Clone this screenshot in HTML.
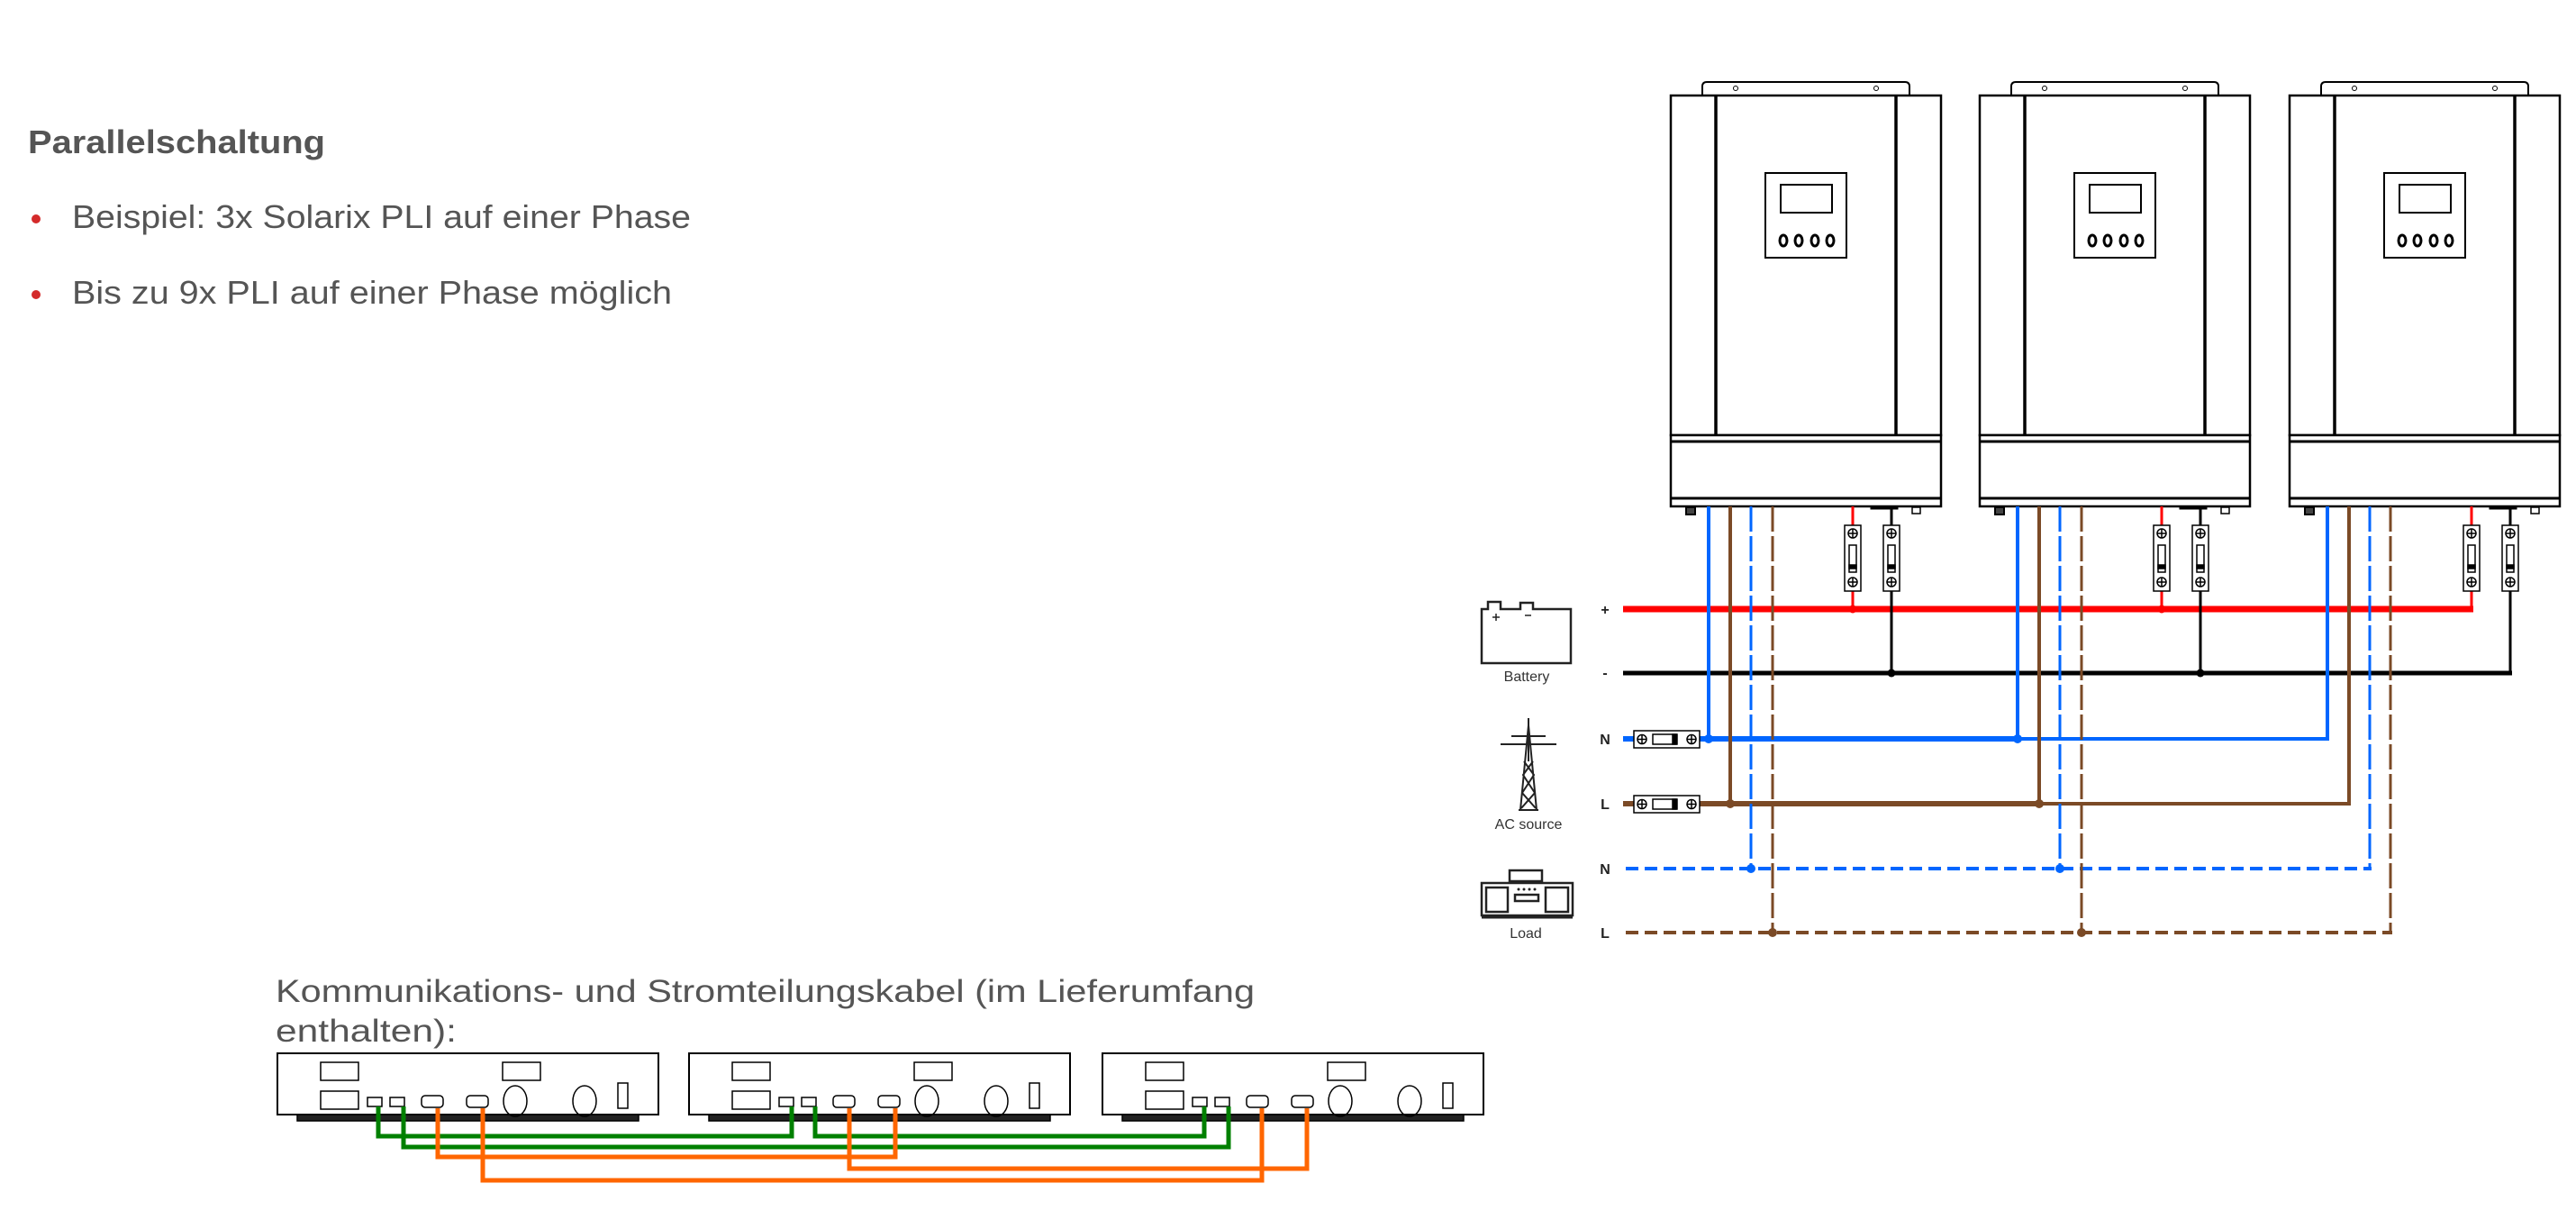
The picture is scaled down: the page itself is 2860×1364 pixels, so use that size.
<!DOCTYPE html>
<html><head><meta charset="utf-8"><style>
html,body{margin:0;padding:0;background:#fff;}
svg{display:block;}
</style></head><body>
<svg width="2860" height="1364" viewBox="0 0 2860 1364" xmlns="http://www.w3.org/2000/svg" font-family="Liberation Sans, sans-serif">
<defs>
<g id="inv" fill="none" stroke="#000">
  <path d="M35 106 V96 Q35 91 40 91 H260 Q265 91 265 96 V106" stroke-width="2" fill="#fff"/>
  <circle cx="72" cy="98" r="2.5" stroke-width="1"/><circle cx="228" cy="98" r="2.5" stroke-width="1"/>
  <rect x="0" y="106" width="300" height="377" stroke-width="2.5" fill="#fff"/>
  <line x1="50" y1="106" x2="50" y2="483" stroke-width="3.5"/>
  <line x1="250" y1="106" x2="250" y2="483" stroke-width="3.5"/>
  <rect x="105" y="192" width="90" height="94" stroke-width="2"/>
  <rect x="122" y="205" width="57" height="31" stroke-width="2"/>
  <ellipse cx="125" cy="267" rx="4" ry="6" stroke-width="3"/>
  <ellipse cx="142" cy="267" rx="4" ry="6" stroke-width="3"/>
  <ellipse cx="160" cy="267" rx="4" ry="6" stroke-width="3"/>
  <ellipse cx="177" cy="267" rx="4" ry="6" stroke-width="3"/>
  <rect x="0" y="483" width="300" height="79" stroke-width="2.5" fill="#fff"/>
  <line x1="0" y1="490" x2="300" y2="490" stroke-width="3"/>
  <line x1="0" y1="553" x2="300" y2="553" stroke-width="3"/>
  <rect x="17" y="563" width="10" height="8" stroke-width="2" fill="#444"/>
  <rect x="268" y="563" width="9" height="7" stroke-width="1.5"/>
  <rect x="222" y="562" width="30" height="3" fill="#000"/>
</g>
<g id="brk" fill="#fff" stroke="#000" stroke-width="1.5">
  <rect x="0" y="0" width="18" height="73"/>
  <circle cx="9" cy="9" r="5"/><line x1="4" y1="9" x2="14" y2="9"/><line x1="9" y1="4" x2="9" y2="14"/>
  <circle cx="9" cy="63" r="5"/><line x1="4" y1="63" x2="14" y2="63"/><line x1="9" y1="58" x2="9" y2="68"/>
  <rect x="5" y="22" width="8" height="30"/><rect x="5" y="44" width="8" height="4" fill="#000"/>
</g>
<g id="hbrk" fill="#fff" stroke="#000" stroke-width="1.5">
  <rect x="0" y="0" width="73" height="19"/>
  <circle cx="9" cy="9.5" r="5"/><line x1="4" y1="9.5" x2="14" y2="9.5"/><line x1="9" y1="4.5" x2="9" y2="14.5"/>
  <circle cx="64" cy="9.5" r="5"/><line x1="59" y1="9.5" x2="69" y2="9.5"/><line x1="64" y1="4.5" x2="64" y2="14.5"/>
  <rect x="21" y="4" width="26" height="11"/><rect x="43" y="4" width="5" height="11" fill="#000"/>
</g>
<g id="box" fill="none" stroke="#000">
  <rect x="0" y="0" width="423" height="68" stroke-width="2" fill="#fff"/>
  <rect x="22" y="68" width="379" height="7" stroke-width="1.5" fill="#222"/>
  <rect x="48" y="10" width="42" height="20" stroke-width="1.5"/>
  <rect x="250" y="10" width="42" height="20" stroke-width="1.5"/>
  <rect x="48" y="42" width="42" height="20" stroke-width="1.5"/>
  <rect x="100" y="49" width="16" height="10" stroke-width="1.5"/>
  <rect x="125" y="49" width="16" height="10" stroke-width="1.5"/>
  <rect x="160" y="47" width="24" height="13" rx="4" stroke-width="1.5"/>
  <rect x="210" y="47" width="24" height="13" rx="4" stroke-width="1.5"/>
  <ellipse cx="264" cy="53" rx="13" ry="17" stroke-width="1.5"/>
  <ellipse cx="341" cy="53" rx="13" ry="17" stroke-width="1.5"/>
  <rect x="378" y="33" width="11" height="28" stroke-width="1.5"/>
</g>
</defs>

<!-- left text -->
<text x="31" y="170" font-size="36" font-weight="bold" fill="#555" textLength="330" lengthAdjust="spacingAndGlyphs">Parallelschaltung</text>
<circle cx="40" cy="243" r="5" fill="#d42a2a"/>
<text x="80" y="253" font-size="36" fill="#555" textLength="687" lengthAdjust="spacingAndGlyphs">Beispiel: 3x Solarix PLI auf einer Phase</text>
<circle cx="40" cy="327" r="5" fill="#d42a2a"/>
<text x="80" y="337" font-size="36" fill="#555" textLength="666" lengthAdjust="spacingAndGlyphs">Bis zu 9x PLI auf einer Phase möglich</text>

<!-- inverters -->
<use href="#inv" x="1855"/>
<use href="#inv" x="2198"/>
<use href="#inv" x="2542"/>

<!-- wires -->
<g fill="none" stroke-linecap="butt">
  <line x1="1802" y1="676" x2="2746" y2="676" stroke="#ff0000" stroke-width="7"/>
  <g stroke="#ff0000" stroke-width="3">
    <line x1="2057" y1="562" x2="2057" y2="676"/><line x1="2400" y1="562" x2="2400" y2="676"/><path d="M2744 562 V676"/>
  </g>
  <line x1="1802" y1="747" x2="2789" y2="747" stroke="#000" stroke-width="5"/>
  <g stroke="#000" stroke-width="3">
    <line x1="2100" y1="562" x2="2100" y2="747"/><line x1="2443" y1="562" x2="2443" y2="747"/><line x1="2787" y1="562" x2="2787" y2="749"/>
  </g>
  <line x1="1802" y1="820" x2="2241" y2="820" stroke="#0066ff" stroke-width="6"/>
  <line x1="2240" y1="820" x2="2586" y2="820" stroke="#0066ff" stroke-width="4"/>
  <g stroke="#0066ff" stroke-width="4">
    <line x1="1897" y1="562" x2="1897" y2="820"/><line x1="2240" y1="562" x2="2240" y2="820"/><line x1="2584" y1="562" x2="2584" y2="822"/>
  </g>
  <line x1="1802" y1="892" x2="2265" y2="892" stroke="#7b4a26" stroke-width="6"/>
  <line x1="2264" y1="892" x2="2610" y2="892" stroke="#7b4a26" stroke-width="4"/>
  <g stroke="#7b4a26" stroke-width="4">
    <line x1="1921" y1="562" x2="1921" y2="892"/><line x1="2264" y1="562" x2="2264" y2="892"/><line x1="2608" y1="562" x2="2608" y2="894"/>
  </g>
  <line x1="1805" y1="964" x2="2633" y2="964" stroke="#0066ff" stroke-width="4" stroke-dasharray="14 7"/>
  <g stroke="#0066ff" stroke-width="3" stroke-dasharray="28 5">
    <line x1="1944" y1="562" x2="1944" y2="964"/><line x1="2287" y1="562" x2="2287" y2="964"/><line x1="2631" y1="562" x2="2631" y2="966"/>
  </g>
  <line x1="1805" y1="1035" x2="2656" y2="1035" stroke="#7b4a26" stroke-width="4" stroke-dasharray="14 7"/>
  <g stroke="#7b4a26" stroke-width="3" stroke-dasharray="28 5">
    <line x1="1968" y1="562" x2="1968" y2="1035"/><line x1="2311" y1="562" x2="2311" y2="1035"/><line x1="2654" y1="562" x2="2654" y2="1037"/>
  </g>
</g>
<g>
  <circle cx="2057" cy="676" r="4.5" fill="#ff0000"/><circle cx="2400" cy="676" r="4.5" fill="#ff0000"/>
  <circle cx="2100" cy="747" r="4.5" fill="#000"/><circle cx="2443" cy="747" r="4.5" fill="#000"/>
  <circle cx="1897" cy="820" r="5" fill="#0066ff"/><circle cx="2240" cy="820" r="5" fill="#0066ff"/>
  <circle cx="1921" cy="892" r="5" fill="#7b4a26"/><circle cx="2264" cy="892" r="5" fill="#7b4a26"/>
  <circle cx="1944" cy="964" r="5" fill="#0066ff"/><circle cx="2287" cy="964" r="5" fill="#0066ff"/>
  <circle cx="1968" cy="1035" r="5" fill="#7b4a26"/><circle cx="2311" cy="1035" r="5" fill="#7b4a26"/>
</g>
<use href="#brk" x="2048" y="583"/><use href="#brk" x="2091" y="583"/>
<use href="#brk" x="2391" y="583"/><use href="#brk" x="2434" y="583"/>
<use href="#brk" x="2735" y="583"/><use href="#brk" x="2778" y="583"/>
<use href="#hbrk" x="1814" y="811"/><use href="#hbrk" x="1814" y="883"/>

<g font-size="16" font-weight="bold" fill="#222" text-anchor="middle">
  <text x="1782" y="682">+</text><text x="1782" y="752">-</text>
  <text x="1782" y="826">N</text><text x="1782" y="898">L</text>
  <text x="1782" y="970">N</text><text x="1782" y="1041">L</text>
</g>
<g font-size="16" fill="#333" text-anchor="middle">
  <text x="1695" y="756">Battery</text>
  <text x="1697" y="920">AC source</text>
  <text x="1694" y="1041">Load</text>
</g>
<g fill="none" stroke="#222" stroke-width="2.5">
  <path d="M1645 676 H1652 V668 H1666 V676 H1688 V669 H1702 V676 H1744 V736 H1645 Z" fill="#fff"/>
  <line x1="1661" y1="681" x2="1661" y2="689" stroke-width="1.5"/><line x1="1657" y1="685" x2="1665" y2="685" stroke-width="1.5"/>
  <line x1="1693" y1="683" x2="1700" y2="683" stroke-width="1.5"/>
</g>
<g fill="none" stroke="#222" stroke-width="2">
  <line x1="1697" y1="797" x2="1697" y2="845"/>
  <line x1="1678" y1="817" x2="1716" y2="817"/>
  <line x1="1666" y1="826" x2="1728" y2="826"/>
  <path d="M1697 805 L1688 899 M1697 805 L1706 899 M1692 845 L1703 860 L1690 880 L1705 897 M1702 845 L1691 860 L1704 880 L1689 897"/>
  <line x1="1686" y1="899" x2="1708" y2="899"/>
</g>
<g fill="none" stroke="#222" stroke-width="2.5">
  <rect x="1676" y="966" width="36" height="12" fill="#fff"/>
  <rect x="1645" y="980" width="101" height="36" fill="#fff"/>
  <rect x="1650" y="985" width="24" height="27"/><rect x="1716" y="985" width="25" height="27"/>
  <rect x="1682" y="993" width="26" height="7"/>
  <line x1="1645" y1="1018" x2="1746" y2="1018" stroke-width="3"/>
</g>
<g fill="#222"><circle cx="1686" cy="987" r="1.5"/><circle cx="1692" cy="987" r="1.5"/><circle cx="1698" cy="987" r="1.5"/><circle cx="1704" cy="987" r="1.5"/></g>

<text x="306" y="1112" font-size="35" fill="#555" textLength="1087" lengthAdjust="spacingAndGlyphs">Kommunikations- und Stromteilungskabel (im Lieferumfang</text>
<text x="306" y="1156" font-size="35" fill="#555" textLength="201" lengthAdjust="spacingAndGlyphs">enthalten):</text>
<use href="#box" x="308" y="1169"/>
<use href="#box" x="765" y="1169"/>
<use href="#box" x="1224" y="1169"/>
<g fill="none" stroke-width="5" stroke-linejoin="miter">
  <path d="M420 1228 V1261 H879 V1228" stroke="#008000"/>
  <path d="M905 1228 V1261 H1337 V1228" stroke="#008000"/>
  <path d="M448 1228 V1273 H1364 V1228" stroke="#008000"/>
  <path d="M486 1230 V1284 H994 V1230" stroke="#ff6600"/>
  <path d="M943 1230 V1297 H1451 V1230" stroke="#ff6600"/>
  <path d="M536 1230 V1310 H1401 V1230" stroke="#ff6600"/>
</g>
</svg>
</body></html>
